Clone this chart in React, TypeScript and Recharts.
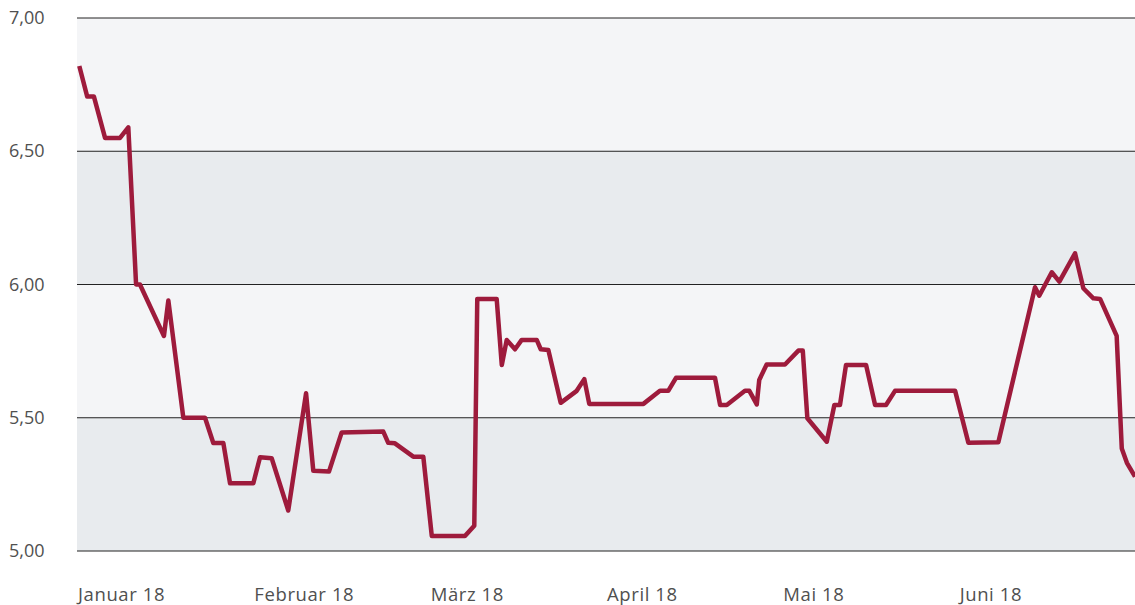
import React from 'react';
import {
  LineChart,
  Line,
  XAxis,
  YAxis,
  ReferenceArea,
  ReferenceLine
} from 'recharts';

// position in months since start of January 2018
const monthPos = [
  0.013, 0.058, 0.096, 0.159, 0.244, 0.291, 0.335, 0.357, 0.493, 0.518,
  0.603, 0.726, 0.773, 0.83, 0.868, 1.0, 1.038, 1.104, 1.198, 1.299,
  1.34, 1.429, 1.501, 1.737, 1.765, 1.803, 1.907, 1.964, 2.012, 2.2,
  2.253, 2.27, 2.38, 2.409, 2.437, 2.484, 2.522, 2.607, 2.63, 2.673,
  2.743, 2.834, 2.877, 2.905, 3.212, 3.306, 3.353, 3.397, 3.618, 3.647,
  3.685, 3.788, 3.813, 3.855, 3.869, 3.911, 4.015, 4.091, 4.116, 4.142,
  4.252, 4.295, 4.327, 4.361, 4.475, 4.526, 4.588, 4.639, 4.98, 5.055,
  5.225, 5.433, 5.457, 5.528, 5.571, 5.66, 5.707, 5.764, 5.802, 5.896,
  5.925, 5.954, 6.0
];

const rates = [
  6.82, 6.705, 6.705, 6.55, 6.55, 6.59, 6.0, 6.0, 5.807, 5.94,
  5.5, 5.5, 5.405, 5.405, 5.254, 5.254, 5.352, 5.348, 5.152, 5.592,
  5.301, 5.298, 5.445, 5.448, 5.406, 5.404, 5.354, 5.354, 5.056, 5.056,
  5.095, 5.946, 5.946, 5.698, 5.792, 5.757, 5.792, 5.792, 5.757, 5.754,
  5.556, 5.601, 5.645, 5.552, 5.552, 5.601, 5.601, 5.65, 5.65, 5.548,
  5.548, 5.601, 5.601, 5.55, 5.642, 5.7, 5.7, 5.752, 5.752, 5.498,
  5.41, 5.548, 5.548, 5.698, 5.698, 5.548, 5.548, 5.601, 5.601, 5.406,
  5.408, 5.99, 5.958, 6.046, 6.011, 6.117, 5.986, 5.948, 5.946, 5.807,
  5.385, 5.331, 5.279
];

const monthLabels = ['Januar 18', 'Februar 18', 'März 18', 'April 18', 'Mai 18', 'Juni 18'];
const monthTicks = [0, 1, 2, 3, 4, 5];
const yTicks = [5, 5.5, 6, 6.5, 7];

const data = monthPos.map((t, i) => ({ t, rate: rates[i] }));

const fmt = (v: number) => v.toFixed(2).replace('.', ',');

const font = '"Open Sans", sans-serif';

const YTick = (props: any) => {
  const { y, payload } = props;
  return (
    <text x={9} y={y} dy={6} textAnchor="start" fill="#505050" fontSize={18} fontFamily={font}>
      {fmt(payload.value)}
    </text>
  );
};

const XTick = (props: any) => {
  const { x, payload } = props;
  return (
    <text
      x={x + 1}
      y={601}
      textAnchor="start"
      fill="#505050"
      fontSize={18.5}
      letterSpacing={0.6}
      fontFamily={font}
    >
      {monthLabels[payload.value]}
    </text>
  );
};

const App: React.FC = () => {
  return (
    <div style={{ width: 1135, height: 605, background: '#fff' }}>
      <style>{'body{margin:0}'}</style>
      <LineChart
        width={1135}
        height={605}
        data={data}
        margin={{ top: 18, right: 0, left: 0, bottom: 0 }}
      >
        <ReferenceArea y1={6.5} y2={7} fill="#f4f5f7" fillOpacity={1} stroke="none" />
        <ReferenceArea y1={6} y2={6.5} fill="#e8ebee" fillOpacity={1} stroke="none" />
        <ReferenceArea y1={5.5} y2={6} fill="#f4f5f7" fillOpacity={1} stroke="none" />
        <ReferenceArea y1={5} y2={5.5} fill="#e8ebee" fillOpacity={1} stroke="none" />
        {yTicks.map(v => (
          <ReferenceLine key={v} y={v} stroke="#222" strokeWidth={1} />
        ))}
        <XAxis
          dataKey="t"
          type="number"
          domain={[0, 6]}
          ticks={monthTicks}
          tick={<XTick />}
          axisLine={false}
          tickLine={false}
          height={54}
          interval={0}
        />
        <YAxis
          type="number"
          domain={[5, 7]}
          ticks={yTicks}
          tick={<YTick />}
          axisLine={false}
          tickLine={false}
          width={77}
          interval={0}
        />
        <Line
          type="linear"
          dataKey="rate"
          stroke="#9e1b3c"
          strokeWidth={4.5}
          strokeLinejoin="round"
          dot={false}
          isAnimationActive={false}
        />
      </LineChart>
    </div>
  );
};

export default App;
